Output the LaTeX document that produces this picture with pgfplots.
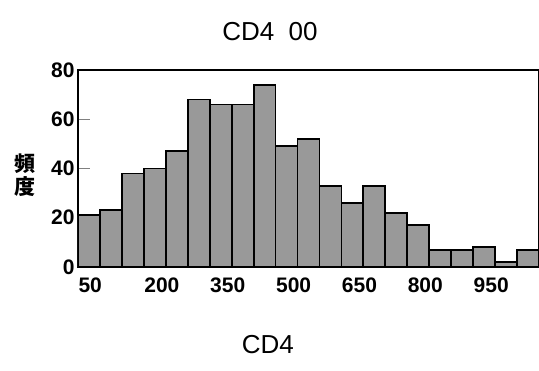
\documentclass[border=0pt]{standalone}
\usepackage{pgfplots}
\pgfplotsset{compat=1.18}
\usepackage{fontspec}
\setmainfont{Liberation Sans}
\newfontfamily\cjk{Noto Sans CJK JP}
\begin{document}
\begin{tikzpicture}[x=1pt,y=1pt]
\useasboundingbox (0,0) rectangle (539,371);
\begin{axis}[
  at={(78pt,104pt)}, anchor=south west,
  scale only axis, width=461pt, height=197pt,
  xmin=50, xmax=1100, ymin=0, ymax=80,
  xtick={50,200,350,500,650,800,950},
  ytick={0,20,40,60,80},
  ytick pos=left,
  tick align=inside,
  major tick length=12pt,
  major x tick style={draw=none},
  major y tick style={line width=1.2pt},
  axis line style={line width=1.5pt},
  /pgf/number format/assume math mode=true,
  xticklabel style={font=\fontsize{21}{22}\selectfont\bfseries, anchor=north west, xshift=-3pt, yshift=-7pt},
  yticklabel style={font=\fontsize{21}{22}\selectfont\bfseries},
  title={CD4\ \ 00},
  title style={font=\fontsize{26}{28}\selectfont, at={(rel axis cs:0.4165,1.165)}, anchor=center},
  xlabel={CD4},
  xlabel style={font=\fontsize{26}{28}\selectfont, at={(rel axis cs:0.412,-0.396)}, anchor=center},
  ylabel={頻\\度},
  ylabel style={font=\fontsize{21}{23}\selectfont\cjk\bfseries, rotate=-90, align=center, at={(rel axis cs:-0.115,0.467)}, anchor=center},
]
\addplot[ybar interval, fill=black!40, draw=black, line width=1.8pt] coordinates {
(50,21) (100,23) (150,38) (200,40) (250,47) (300,68) (350,66) (400,66)
(450,74) (500,49) (550,52) (600,33) (650,26) (700,33) (750,22) (800,17)
(850,7) (900,7) (950,8) (1000,2) (1050,7) (1100,7)};
\end{axis}
\end{tikzpicture}
\end{document}
